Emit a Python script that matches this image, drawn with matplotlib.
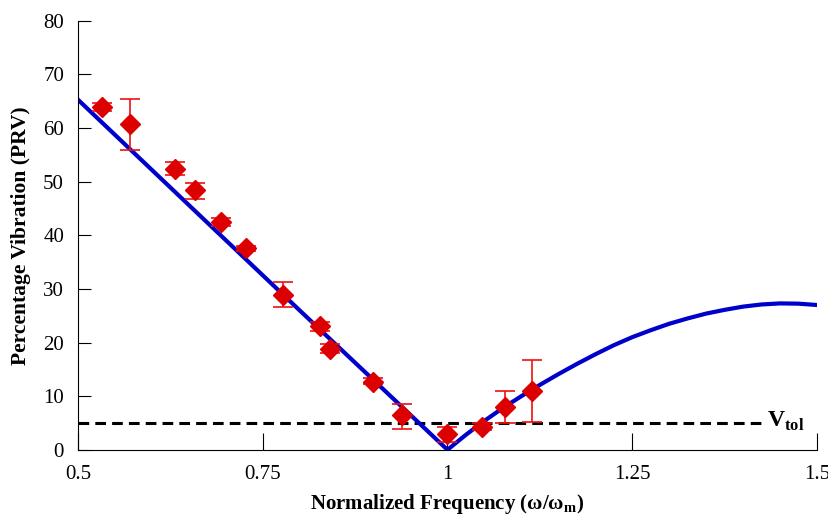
import numpy as np
import matplotlib
matplotlib.use("Agg")
import matplotlib.pyplot as plt

# model curve
curve_x = [0.5, 0.6, 0.7, 0.8, 0.9, 1.0, 1.025, 1.05, 1.075, 1.1, 1.125, 1.15, 1.175, 1.2,
           1.225, 1.25, 1.275, 1.3, 1.325, 1.35, 1.375, 1.4, 1.425, 1.45, 1.475, 1.5]
curve_y = [65.3, 52.2, 39.1, 26.0, 13.0, 0.0, 2.8, 5.4, 7.8, 10.0, 12.1, 14.1, 16.0, 17.8,
           19.5, 21.0, 22.3, 23.5, 24.5, 25.4, 26.1, 26.7, 27.1, 27.3, 27.25, 27.0]

# measured points with asymmetric error bars
meas_x = [0.533, 0.571, 0.632, 0.659, 0.694, 0.728, 0.778, 0.828, 0.841, 0.899, 0.939, 1.0, 1.047, 1.078, 1.115]
meas_y = [64.0, 60.7, 52.4, 48.4, 42.5, 37.7, 28.9, 23.0, 18.8, 12.7, 6.4, 2.9, 4.3, 8.0, 11.0]
err_hi = [64.6, 65.5, 53.6, 49.8, 43.3, 38.0, 31.2, 23.9, 19.7, 13.4, 8.6, 4.3, 5.0, 10.9, 16.7]
err_lo = [63.2, 55.9, 51.2, 46.8, 41.8, 37.0, 26.6, 22.2, 18.1, 12.3, 3.9, 1.4, 3.7, 5.0, 5.1]

v_tol = 5.0
tol_x = [0.5, 1.432]

plt.rcParams['font.family'] = ['Liberation Serif', 'DejaVu Serif']
plt.rcParams['mathtext.fontset'] = 'custom'
plt.rcParams['mathtext.rm'] = 'Liberation Serif'
plt.rcParams['mathtext.bf'] = 'Liberation Serif:bold'

fig = plt.figure(figsize=(8.29, 5.2), dpi=100)
ax = fig.add_axes([0.094, 0.135, 0.8915, 0.825])
ax.set_clip_on(False)

ax.plot(tol_x, [v_tol, v_tol], color='black', lw=2.2, ls=(0, (3.5, 2)), zorder=1)
ax.plot(curve_x, curve_y, color='#0000CC', lw=3, zorder=2)

my = np.array(meas_y)
yerr = [my - np.array(err_lo), np.array(err_hi) - my]
ax.errorbar(meas_x, meas_y, yerr=yerr, fmt='D', color='#DD0000', ecolor='#EE1111',
            ms=10, elinewidth=1.2, capsize=7.5, capthick=1.2, zorder=3)

ax.text(1.433, v_tol + 0.3, r'V$_\mathbf{tol}$', fontsize=17, fontweight='bold', va='center', ha='left')

ax.set_xlim(0.5, 1.5)
ax.set_ylim(0, 80)
ax.set_xticks([0.5, 0.75, 1.0, 1.25, 1.5])
ax.set_xticklabels(['0.5', '0.75', '1', '1.25', '1.5'])
ax.set_yticks(range(0, 81, 10))
ax.spines['top'].set_visible(False)
ax.spines['right'].set_visible(False)
ax.tick_params(axis='x', direction='in', length=12, labelsize=15, pad=11)
ax.tick_params(axis='y', direction='in', length=9.5, labelsize=15, pad=10)

ax.set_xlabel(r'Normalized Frequency (ω/ω$_\mathbf{m}$)', fontsize=15, fontweight='bold', labelpad=6)
ax.set_ylabel('Percentage Vibration (PRV)', fontsize=15.5, fontweight='bold', labelpad=9)

fig.savefig('out.png', dpi=100)
